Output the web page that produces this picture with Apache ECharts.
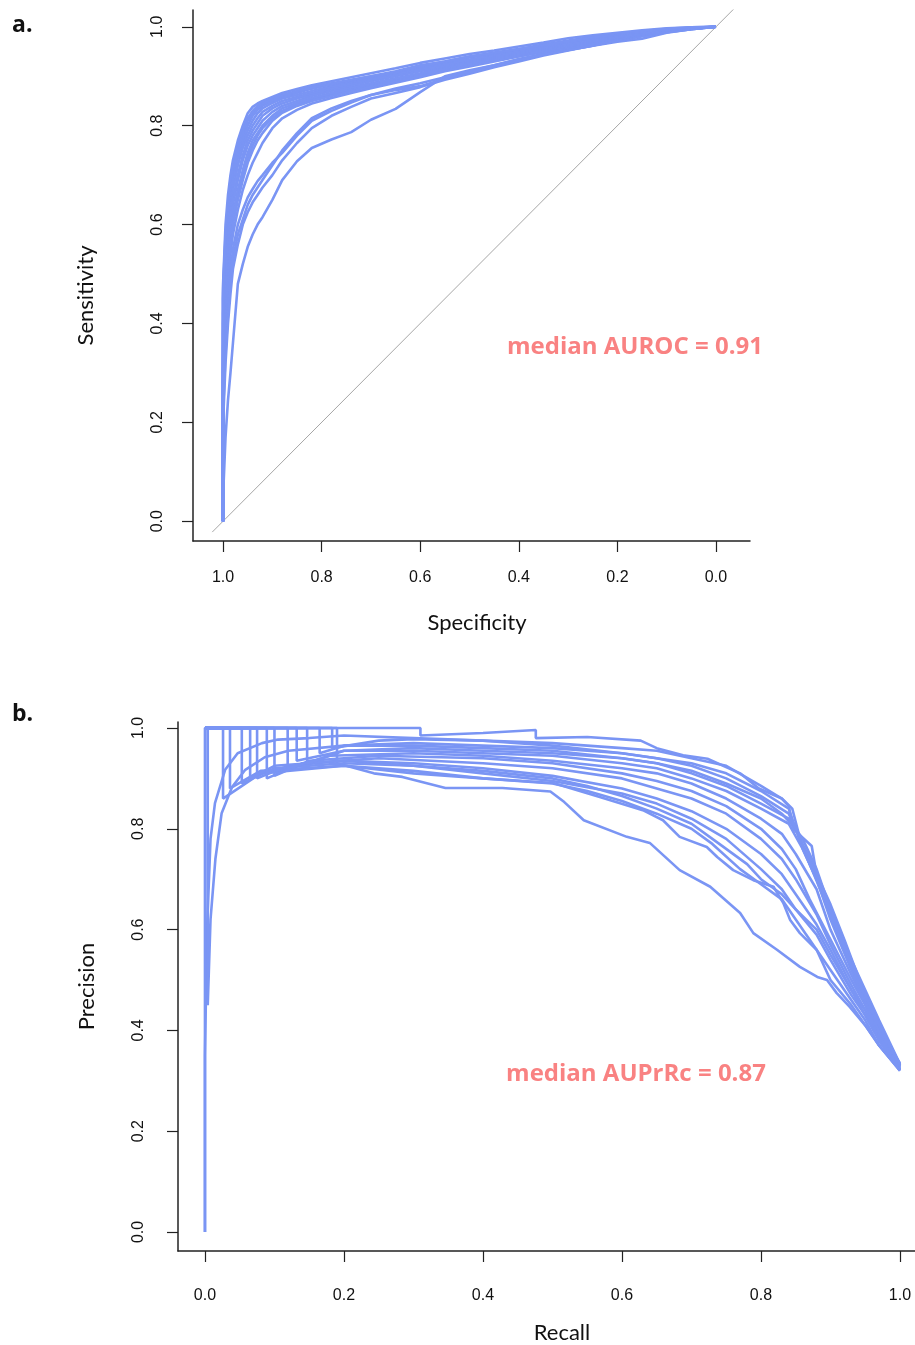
<!DOCTYPE html>
<html><head><meta charset="utf-8">
<script src="https://cdn.jsdelivr.net/npm/echarts@6/dist/echarts.min.js"></script>
<style>html,body{margin:0;padding:0;background:#fff}#c{width:915px;height:1345px}</style>
</head><body><div id="c"></div>
<script>
// ---------- Panel a: ROC curves (specificity grid shared by all curves) ----------
const specGrid = [1, 1, 0.995, 0.99, 0.985, 0.98, 0.97, 0.96, 0.95, 0.94, 0.93, 0.92, 0.9, 0.88, 0.85, 0.82, 0.78, 0.74, 0.7, 0.65, 0.6, 0.55, 0.5, 0.45, 0.4, 0.35, 0.3, 0.25, 0.2, 0.15, 0.1, 0.05, 0];
const roc01 = [0,0.48,0.6,0.66,0.7,0.73,0.77,0.8,0.825,0.838,0.845,0.85,0.858,0.866,0.874,0.882,0.89,0.898,0.906,0.916,0.927,0.936,0.945,0.952,0.96,0.968,0.977,0.983,0.988,0.993,0.997,0.999,1];
const roc02 = [0,0.47,0.58,0.64,0.69,0.72,0.76,0.79,0.815,0.83,0.84,0.846,0.855,0.862,0.87,0.878,0.886,0.893,0.9,0.91,0.922,0.93,0.94,0.948,0.955,0.964,0.972,0.98,0.986,0.991,0.996,0.999,1];
const roc03 = [0,0.45,0.55,0.62,0.67,0.7,0.745,0.775,0.8,0.82,0.832,0.84,0.85,0.858,0.866,0.875,0.884,0.89,0.898,0.907,0.918,0.928,0.938,0.945,0.952,0.96,0.97,0.977,0.984,0.99,0.995,0.998,1];
const roc04 = [0,0.42,0.52,0.6,0.65,0.69,0.735,0.765,0.79,0.81,0.825,0.835,0.846,0.855,0.862,0.87,0.88,0.888,0.895,0.905,0.915,0.925,0.934,0.942,0.95,0.958,0.967,0.975,0.982,0.988,0.994,0.998,1];
const roc05 = [0,0.4,0.5,0.58,0.63,0.67,0.72,0.755,0.78,0.8,0.815,0.828,0.84,0.85,0.858,0.866,0.876,0.885,0.893,0.902,0.912,0.922,0.932,0.94,0.948,0.956,0.965,0.973,0.98,0.987,0.993,0.997,1];
const roc06 = [0,0.38,0.48,0.56,0.61,0.65,0.7,0.74,0.77,0.79,0.805,0.82,0.835,0.845,0.855,0.863,0.873,0.882,0.89,0.9,0.91,0.92,0.93,0.938,0.946,0.955,0.963,0.971,0.979,0.986,0.992,0.997,1];
const roc07 = [0,0.35,0.46,0.54,0.6,0.64,0.69,0.73,0.76,0.78,0.795,0.81,0.828,0.84,0.85,0.86,0.87,0.878,0.886,0.896,0.906,0.917,0.927,0.936,0.944,0.953,0.961,0.97,0.978,0.985,0.992,0.997,1];
const roc08 = [0,0.33,0.44,0.52,0.58,0.62,0.67,0.71,0.745,0.77,0.785,0.8,0.82,0.835,0.846,0.856,0.866,0.875,0.884,0.894,0.904,0.915,0.925,0.934,0.943,0.952,0.96,0.969,0.977,0.985,0.991,0.996,1];
const roc09 = [0,0.3,0.42,0.5,0.56,0.6,0.65,0.69,0.725,0.75,0.77,0.785,0.81,0.826,0.84,0.85,0.86,0.87,0.88,0.89,0.9,0.912,0.922,0.932,0.941,0.95,0.958,0.967,0.976,0.984,0.991,0.996,1];
const roc10 = [0,0.28,0.4,0.48,0.54,0.58,0.63,0.67,0.7,0.725,0.745,0.765,0.795,0.815,0.832,0.845,0.856,0.866,0.876,0.887,0.898,0.91,0.92,0.93,0.94,0.949,0.957,0.966,0.975,0.983,0.99,0.996,1];
const roc11 = [0,0.25,0.36,0.44,0.5,0.55,0.6,0.63,0.655,0.672,0.688,0.7,0.725,0.745,0.78,0.81,0.83,0.847,0.862,0.872,0.88,0.895,0.908,0.92,0.932,0.944,0.953,0.962,0.972,0.981,0.989,0.995,1];
const roc12 = [0,0.22,0.34,0.42,0.48,0.53,0.58,0.61,0.64,0.66,0.675,0.69,0.72,0.75,0.785,0.815,0.835,0.85,0.862,0.875,0.886,0.898,0.91,0.922,0.934,0.945,0.954,0.963,0.973,0.982,0.99,0.996,1];
const roc13 = [0,0.2,0.32,0.4,0.46,0.51,0.56,0.6,0.625,0.645,0.66,0.675,0.7,0.73,0.765,0.795,0.82,0.838,0.855,0.866,0.878,0.893,0.905,0.918,0.93,0.942,0.952,0.962,0.972,0.981,0.989,0.995,1];
const roc14 = [0,0.05,0.17,0.245,0.3,0.36,0.48,0.52,0.555,0.58,0.6,0.615,0.65,0.69,0.728,0.755,0.772,0.787,0.812,0.834,0.868,0.9,0.912,0.922,0.935,0.945,0.953,0.962,0.97,0.976,0.988,0.995,1];
const roc15 = [0,0.46,0.57,0.63,0.68,0.71,0.75,0.785,0.81,0.825,0.835,0.843,0.852,0.86,0.868,0.876,0.884,0.892,0.9,0.908,0.92,0.93,0.94,0.947,0.955,0.962,0.97,0.978,0.985,0.99,0.995,0.998,1];
const roc16 = [0,0.31,0.43,0.51,0.57,0.61,0.66,0.7,0.735,0.76,0.78,0.795,0.815,0.83,0.843,0.853,0.863,0.872,0.882,0.892,0.903,0.914,0.924,0.934,0.943,0.951,0.959,0.968,0.977,0.985,0.991,0.996,1];
const rocCurves = [roc14, roc13, roc12, roc11, roc10, roc16, roc09, roc08, roc07, roc06, roc05, roc04, roc03, roc15, roc02, roc01];
const chanceLine = [[1.022, -0.022], [-0.06, 1.06]];
const rocTicks = [0, 0.2, 0.4, 0.6, 0.8, 1.0];
const rocText = 'median AUROC = 0.91';

// ---------- Panel b: precision-recall curves ([recall, precision]) ----------
const pr01 = [[0,1],[0.31,1],[0.31,0.985],[0.4,0.99],[0.476,0.996],[0.476,0.98],[0.55,0.982],[0.627,0.975],[0.65,0.96],[0.688,0.946],[0.723,0.939],[0.77,0.91],[0.797,0.88],[0.83,0.86],[0.84,0.845],[0.846,0.8],[0.873,0.766],[0.88,0.709],[0.897,0.651],[0.914,0.579],[0.935,0.507],[0.955,0.457],[0.969,0.4],[1,0.335]];
const pr02 = [[0,1],[0.183,1],[0.183,0.96],[0.25,0.975],[0.3,0.978],[0.4,0.975],[0.5,0.97],[0.6,0.96],[0.65,0.955],[0.7,0.94],[0.75,0.925],[0.8,0.885],[0.83,0.86],[0.845,0.84],[0.86,0.76],[0.88,0.7],[0.9,0.64],[0.93,0.54],[0.95,0.48],[0.97,0.42],[1,0.333]];
const pr03 = [[0,1],[0.165,1],[0.165,0.95],[0.2,0.965],[0.3,0.97],[0.4,0.965],[0.5,0.96],[0.6,0.95],[0.65,0.94],[0.7,0.93],[0.75,0.91],[0.8,0.875],[0.84,0.84],[0.855,0.78],[0.87,0.74],[0.9,0.65],[0.92,0.58],[0.95,0.47],[0.97,0.41],[1,0.33]];
const pr04 = [[0,1],[0.147,1],[0.147,0.93],[0.2,0.955],[0.3,0.96],[0.4,0.955],[0.5,0.95],[0.6,0.94],[0.65,0.93],[0.7,0.915],[0.75,0.89],[0.8,0.86],[0.83,0.83],[0.85,0.8],[0.87,0.73],[0.9,0.63],[0.93,0.53],[0.95,0.465],[0.97,0.405],[1,0.33]];
const pr05 = [[0,1],[0.132,1],[0.132,0.935],[0.2,0.955],[0.3,0.955],[0.4,0.95],[0.5,0.945],[0.6,0.93],[0.65,0.92],[0.7,0.9],[0.75,0.875],[0.8,0.84],[0.84,0.81],[0.86,0.76],[0.88,0.7],[0.9,0.62],[0.93,0.52],[0.95,0.46],[0.97,0.4],[1,0.328]];
const pr06 = [[0,1],[0.119,1],[0.119,0.92],[0.18,0.945],[0.3,0.95],[0.4,0.945],[0.5,0.935],[0.6,0.92],[0.65,0.91],[0.7,0.89],[0.75,0.86],[0.8,0.82],[0.83,0.79],[0.85,0.75],[0.88,0.68],[0.9,0.6],[0.93,0.51],[0.95,0.455],[0.97,0.395],[1,0.327]];
const pr07 = [[0,1],[0.1,1],[0.1,0.905],[0.15,0.935],[0.25,0.945],[0.4,0.94],[0.5,0.93],[0.6,0.91],[0.65,0.895],[0.7,0.875],[0.75,0.845],[0.8,0.8],[0.83,0.76],[0.85,0.72],[0.87,0.66],[0.9,0.58],[0.93,0.5],[0.95,0.45],[0.97,0.39],[1,0.325]];
const pr08 = [[0,1],[0.089,1],[0.089,0.9],[0.14,0.93],[0.25,0.94],[0.4,0.93],[0.5,0.92],[0.6,0.9],[0.65,0.88],[0.7,0.86],[0.75,0.83],[0.8,0.78],[0.83,0.74],[0.85,0.7],[0.88,0.63],[0.9,0.57],[0.93,0.49],[0.95,0.44],[0.97,0.385],[1,0.323]];
const pr09 = [[0,1],[0.065,1],[0.065,0.9],[0.1,0.925],[0.2,0.935],[0.3,0.93],[0.4,0.92],[0.5,0.905],[0.6,0.88],[0.65,0.86],[0.7,0.835],[0.75,0.8],[0.8,0.75],[0.83,0.71],[0.85,0.67],[0.88,0.61],[0.9,0.56],[0.93,0.48],[0.95,0.44],[0.97,0.38],[1,0.322]];
const pr10 = [[0,1],[0.053,1],[0.053,0.89],[0.1,0.92],[0.2,0.93],[0.3,0.925],[0.4,0.91],[0.5,0.895],[0.6,0.87],[0.65,0.85],[0.7,0.82],[0.75,0.78],[0.8,0.72],[0.83,0.68],[0.85,0.64],[0.88,0.6],[0.9,0.55],[0.93,0.48],[0.95,0.43],[0.97,0.38],[1,0.322]];
const pr11 = [[0,1],[0.036,1],[0.036,0.88],[0.08,0.915],[0.2,0.925],[0.3,0.915],[0.4,0.9],[0.5,0.89],[0.55,0.875],[0.6,0.855],[0.65,0.83],[0.7,0.8],[0.73,0.77],[0.77,0.72],[0.8,0.69],[0.83,0.66],[0.85,0.62],[0.88,0.56],[0.9,0.52],[0.93,0.46],[0.95,0.42],[0.97,0.37],[1,0.321]];
const pr12 = [[0,1],[0.026,1],[0.026,0.86],[0.08,0.91],[0.2,0.925],[0.3,0.91],[0.4,0.9],[0.501,0.891],[0.568,0.863],[0.63,0.837],[0.659,0.817],[0.683,0.784],[0.722,0.764],[0.737,0.744],[0.76,0.718],[0.789,0.698],[0.818,0.685],[0.832,0.653],[0.842,0.619],[0.856,0.593],[0.88,0.56],[0.9,0.5],[0.93,0.45],[0.95,0.41],[0.97,0.37],[1,0.32]];
const pr13 = [[0,1],[0.19,1],[0.19,0.93],[0.243,0.91],[0.284,0.903],[0.346,0.881],[0.428,0.881],[0.497,0.874],[0.517,0.853],[0.545,0.817],[0.607,0.784],[0.64,0.772],[0.683,0.718],[0.727,0.685],[0.77,0.633],[0.789,0.593],[0.823,0.56],[0.856,0.526],[0.881,0.506],[0.895,0.5],[0.909,0.474],[0.928,0.446],[0.95,0.41],[0.97,0.37],[1,0.32]];
const pr14 = [[0,0],[0,0.35],[0.003,0.6],[0.008,0.78],[0.0144,0.851],[0.029,0.917],[0.047,0.95],[0.082,0.97],[0.105,0.977],[0.15,0.98],[0.2,0.985],[0.3,0.98],[0.4,0.975],[0.5,0.965],[0.6,0.95],[0.65,0.94],[0.7,0.925],[0.75,0.9],[0.8,0.865],[0.84,0.83],[0.86,0.77],[0.88,0.71],[0.9,0.63],[0.93,0.53],[0.95,0.47],[0.97,0.41],[1,0.33]];
const pr15 = [[0,0],[0,1],[0.004,1],[0.004,0.45],[0.008,0.62],[0.015,0.74],[0.024,0.831],[0.039,0.883],[0.058,0.917],[0.086,0.942],[0.12,0.955],[0.2,0.965],[0.3,0.965],[0.4,0.96],[0.5,0.955],[0.6,0.94],[0.65,0.93],[0.7,0.91],[0.75,0.885],[0.8,0.85],[0.84,0.82],[0.86,0.78],[0.88,0.72],[0.9,0.64],[0.93,0.53],[0.95,0.47],[0.97,0.41],[1,0.332]];
const pr16 = [[0,1],[0.075,1],[0.075,0.9],[0.12,0.925],[0.2,0.935],[0.3,0.925],[0.4,0.915],[0.5,0.9],[0.55,0.885],[0.6,0.865],[0.65,0.84],[0.7,0.81],[0.74,0.77],[0.78,0.73],[0.8,0.7],[0.83,0.67],[0.85,0.64],[0.88,0.59],[0.9,0.54],[0.93,0.47],[0.95,0.43],[0.97,0.38],[1,0.322]];
const prCurves = [pr13, pr12, pr11, pr16, pr10, pr09, pr08, pr07, pr06, pr05, pr04, pr03, pr02, pr01, pr14, pr15];
const prTicks = [0, 0.2, 0.4, 0.6, 0.8, 1.0];
const prText = 'median AUPrRc = 0.87';

// ---------- styles ----------
const CURVE = '#7a95f4';
const AXIS = '#222222';
const TXT = '#111111';
const tickFont = {fontFamily: '"Liberation Sans", Arial, sans-serif', fontSize: 16, color: TXT};
const nameFont = {fontFamily: 'Lato, "Open Sans", sans-serif', fontSize: 22, color: TXT};
const fmt = v => v.toFixed(1);

function axisCommon(ticks) {
  return {
    type: 'value',
    splitLine: {show: false},
    axisLine: {show: true, onZero: false, lineStyle: {color: AXIS, width: 1.5}},
    axisTick: {show: true, customValues: ticks, length: 11, lineStyle: {color: AXIS, width: 1.2}},
    axisLabel: Object.assign({customValues: ticks, formatter: fmt}, tickFont),
    nameLocation: 'middle'
  };
}

const series = [];
series.push({
  type: 'line', xAxisIndex: 0, yAxisIndex: 0, data: chanceLine, showSymbol: false,
  lineStyle: {color: '#a6a6a6', width: 1}, silent: true, clip: true, z: 1
});
rocCurves.forEach(c => series.push({
  type: 'line', xAxisIndex: 0, yAxisIndex: 0, showSymbol: false, silent: true, clip: false, z: 2,
  data: specGrid.map((s, i) => [s, c[i]]),
  lineStyle: {color: CURVE, width: 2.6}
}));
prCurves.forEach(c => series.push({
  type: 'line', xAxisIndex: 1, yAxisIndex: 1, showSymbol: false, silent: true, clip: false, z: 2,
  data: c, lineStyle: {color: CURVE, width: 2.6}
}));

const option = {
  animation: false,
  backgroundColor: '#ffffff',
  grid: [
    {left: 193, top: 10, width: 557, height: 531},
    {left: 178, top: 722, width: 737, height: 529}
  ],
  xAxis: [
    Object.assign(axisCommon(rocTicks), {gridIndex: 0, inverse: true, min: -0.069, max: 1.061,
      name: 'Specificity', nameGap: 71,
      nameTextStyle: Object.assign({padding: [0, 0, 0, 11]}, nameFont)}),
    Object.assign(axisCommon(prTicks), {gridIndex: 1, min: -0.0388, max: 1.0216,
      name: 'Recall', nameGap: 71,
      nameTextStyle: Object.assign({padding: [0, 0, 0, 31]}, nameFont)})
  ],
  yAxis: [
    Object.assign(axisCommon(rocTicks), {gridIndex: 0, min: -0.04, max: 1.034,
      name: 'Sensitivity', nameGap: 96, nameRotate: 90,
      nameTextStyle: Object.assign({padding: [0, 40, 0, 0]}, nameFont)}),
    Object.assign(axisCommon(prTicks), {gridIndex: 1, min: -0.0377, max: 1.0119,
      name: 'Precision', nameGap: 80, nameRotate: 90,
      nameTextStyle: nameFont})
  ],
  series: series,
  graphic: [
    {type: 'text', x: 12, y: 14, style: {text: 'a.', font: 'bold 23px "Open Sans", sans-serif', fill: TXT}},
    {type: 'text', x: 12, y: 703, style: {text: 'b.', font: 'bold 23px "Open Sans", sans-serif', fill: TXT}},
    {type: 'text', x: 635, y: 347, style: {text: rocText, font: 'bold 24px "Open Sans", sans-serif', fill: '#f98282',
      align: 'center', verticalAlign: 'middle', textAlign: 'center', textVerticalAlign: 'middle'}},
    {type: 'text', x: 636, y: 1074, style: {text: prText, font: 'bold 24px "Open Sans", sans-serif', fill: '#f98282',
      align: 'center', verticalAlign: 'middle', textAlign: 'center', textVerticalAlign: 'middle'}}
  ]
};
// rotated y tick labels, as in the reference
option.yAxis[0].axisLabel.rotate = 90; option.yAxis[0].axisLabel.margin = 27;
option.yAxis[1].axisLabel.rotate = 90; option.yAxis[1].axisLabel.margin = 31;
option.xAxis[0].axisLabel.margin = 29;
option.xAxis[1].axisLabel.margin = 37;

const chart = echarts.init(document.getElementById('c'), null, {renderer: 'canvas'});
chart.setOption(option);
</script>
</body></html>
